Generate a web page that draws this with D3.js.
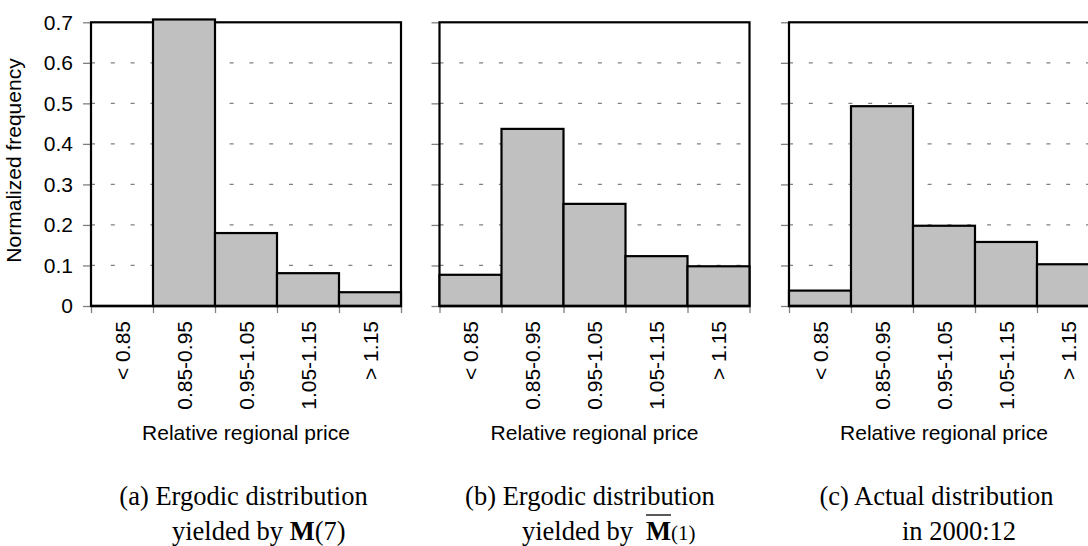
<!DOCTYPE html>
<html><head><meta charset="utf-8">
<script src="https://cdn.jsdelivr.net/npm/d3@7"></script>
<style>body{margin:0;background:#fff;}svg{display:block;}</style>
</head><body>
<svg id="chart" width="1088" height="546"></svg>
<script>
// ---- data ----
const categories = ["< 0.85", "0.85-0.95", "0.95-1.05", "1.05-1.15", "> 1.15"];
const seriesA = [0, 0.707, 0.180, 0.081, 0.034];
const seriesB = [0.077, 0.437, 0.252, 0.123, 0.098];
const seriesC = [0.038, 0.493, 0.198, 0.158, 0.103];
const yTicks = [0, 0.1, 0.2, 0.3, 0.4, 0.5, 0.6, 0.7];
const yTitle = "Normalized frequency";
const xTitle = "Relative regional price";

(function () {
const svg = d3.select("#chart");
const sans = "'Liberation Sans', Arial, sans-serif";
const serif = "'Liberation Serif', 'Times New Roman', serif";
const fs = 21;
const plotTop = 22.3, plotBottom = 306, pw = 310;
const y = d3.scaleLinear().domain([0, 0.7]).range([plotBottom, plotTop]);

const panels = [
  {left: 91, data: seriesA, labels: true},
  {left: 439.5, data: seriesB, labels: false},
  {left: 789, data: seriesC, labels: false}
];

panels.forEach(p => {
  const g = svg.append("g");
  const x = d3.scaleBand().domain(categories).range([p.left, p.left + pw]).padding(0);
  const xe = d3.scaleLinear().domain([0, categories.length]).range([p.left, p.left + pw]);
  // gridlines
  g.selectAll("line.grid").data(yTicks.filter(t => t > 0 && t < 0.7)).join("line")
    .attr("class", "grid")
    .attr("x1", p.left).attr("x2", p.left + pw)
    .attr("y1", d => y(d)).attr("y2", d => y(d))
    .attr("stroke", "#808080").attr("stroke-width", 1.3)
    .attr("stroke-dasharray", "4,15.8");
  // y axis
  const ya = g.append("g").attr("transform", `translate(${p.left},0)`)
    .call(d3.axisLeft(y).tickValues(yTicks).tickSize(8).tickPadding(10)
      .tickFormat(p.labels ? d3.format("") : () => ""));
  ya.select(".domain").remove();
  ya.selectAll(".tick line").attr("stroke", "#808080").attr("stroke-width", 1.3);
  ya.selectAll(".tick text").attr("font-family", sans).attr("font-size", fs).attr("fill", "#000");
  // x ticks at bin edges
  const xa = g.append("g").attr("transform", `translate(0,${plotBottom})`)
    .call(d3.axisBottom(xe).tickValues(d3.range(categories.length + 1)).tickSize(7).tickFormat(() => ""));
  xa.select(".domain").remove();
  xa.selectAll(".tick line").attr("stroke", "#808080").attr("stroke-width", 1.3);
  // frame
  g.append("rect").attr("x", p.left).attr("y", plotTop).attr("width", pw).attr("height", plotBottom - plotTop)
    .attr("fill", "none").attr("stroke", "#000").attr("stroke-width", 2.2);
  // bars
  g.selectAll("rect.bar").data(p.data.map((v, i) => ({c: categories[i], v}))).join("rect")
    .attr("class", "bar")
    .attr("x", d => x(d.c)).attr("width", x.bandwidth())
    .attr("y", d => y(d.v)).attr("height", d => y(0) - y(d.v))
    .attr("fill", "#c0c0c0").attr("stroke", "#000").attr("stroke-width", 2.2)
    .attr("display", d => d.v > 0 ? null : "none");
  // bottom line
  g.append("line").attr("x1", p.left).attr("x2", p.left + pw).attr("y1", plotBottom).attr("y2", plotBottom)
    .attr("stroke", "#000").attr("stroke-width", 2.4);
  // x labels
  g.selectAll("text.xl").data(categories).join("text")
    .attr("class", "xl")
    .attr("transform", d => `translate(${x(d) + x.bandwidth() / 2 + 7.5},321) rotate(-90)`)
    .attr("text-anchor", "end").attr("font-family", sans).attr("font-size", fs).text(d => d);
  // x title
  g.append("text").attr("x", p.left + pw / 2).attr("y", 440).attr("text-anchor", "middle")
    .attr("font-family", sans).attr("font-size", fs).text(xTitle);
});

// y title
svg.append("text").attr("transform", "translate(20.5,160.5) rotate(-90)").attr("text-anchor", "middle")
  .attr("font-family", sans).attr("font-size", fs).text(yTitle);

// captions
const cfs = 26.5, cy1 = 505, cy2 = 540;
function cap(x, yy, anchor, parts) {
  const t = svg.append("text").attr("x", x).attr("y", yy).attr("text-anchor", anchor)
    .attr("font-family", serif).attr("font-size", cfs);
  parts.forEach(pt => {
    const s = t.append("tspan").text(pt.t);
    if (pt.b) s.attr("font-weight", "bold");
  });
  return t;
}
cap(243.5, cy1, "middle", [{t: "(a) Ergodic distribution"}]);
cap(172, cy2, "start", [{t: "yielded by "}, {t: "M", b: true}, {t: "(7)"}]);
cap(590, cy1, "middle", [{t: "(b) Ergodic distribution"}]);
cap(522, cy2, "start", [{t: "yielded by"}]);
const mB = svg.append("text").attr("x", 646).attr("y", cy2).attr("font-family", serif)
  .attr("font-size", cfs).attr("font-weight", "bold").text("M");
const mw = mB.node().getComputedTextLength();
svg.append("line").attr("x1", 646).attr("x2", 646 + mw).attr("y1", 515).attr("y2", 515)
  .attr("stroke", "#000").attr("stroke-width", 1.3);
svg.append("text").attr("x", 646 + mw).attr("y", cy2).attr("font-family", serif)
  .attr("font-size", 21).text("(1)");
cap(936.5, cy1, "middle", [{t: "(c) Actual distribution"}]);
cap(959, cy2, "middle", [{t: "in 2000:12"}]);
})();
</script>
</body></html>
